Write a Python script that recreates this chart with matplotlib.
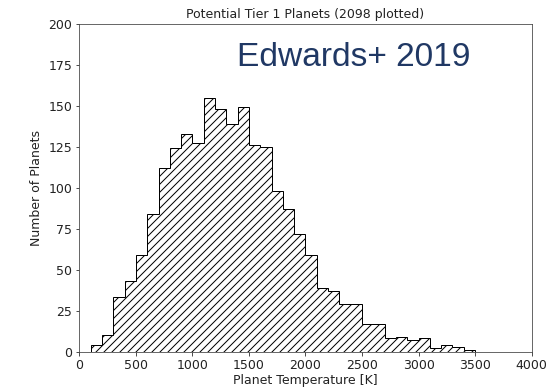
import matplotlib.pyplot as plt
import numpy as np

# temperature bins (K) and planet counts per bin
bin_edges = np.arange(100, 3501, 100)
counts = [4, 10, 33, 43, 59, 84, 112, 124, 133, 127,
          155, 148, 139, 149, 126, 125, 98, 87, 72, 59,
          39, 37, 29, 29, 17, 17, 8, 9, 7, 8,
          2, 4, 3, 1]

x_ticks = [0, 500, 1000, 1500, 2000, 2500, 3000, 3500, 4000]
y_ticks = [0, 25, 50, 75, 100, 125, 150, 175, 200]

DPI = 72
fig = plt.figure(figsize=(559 / DPI, 391 / DPI), dpi=DPI)
ax = fig.add_axes([0.142, 0.101, 0.809, 0.838])

ax.stairs(counts, bin_edges, fill=True, facecolor="white",
          edgecolor="black", hatch="///", linewidth=1.0)

ax.set_xlim(0, 4000)
ax.set_ylim(0, 200)
ax.set_xticks(x_ticks)
ax.set_yticks(y_ticks)
ax.tick_params(labelsize=12.5, colors="#222222")
for s in ax.spines.values():
    s.set_color("#444444")

ax.set_xlabel("Planet Temperature [K]", fontsize=12.5, labelpad=2, color="#222222")
ax.set_ylabel("Number of Planets", fontsize=12.5, labelpad=6, color="#222222")
ax.set_title("Potential Tier 1 Planets (2098 plotted)", fontsize=12.5, color="#222222")

fig.text(237 / 559, 1 - 66 / 391, "Edwards+ 2019", fontsize=33.5,
         family="Liberation Sans", color="#203864", va="baseline", ha="left")

fig.savefig("out.png", dpi=DPI)
